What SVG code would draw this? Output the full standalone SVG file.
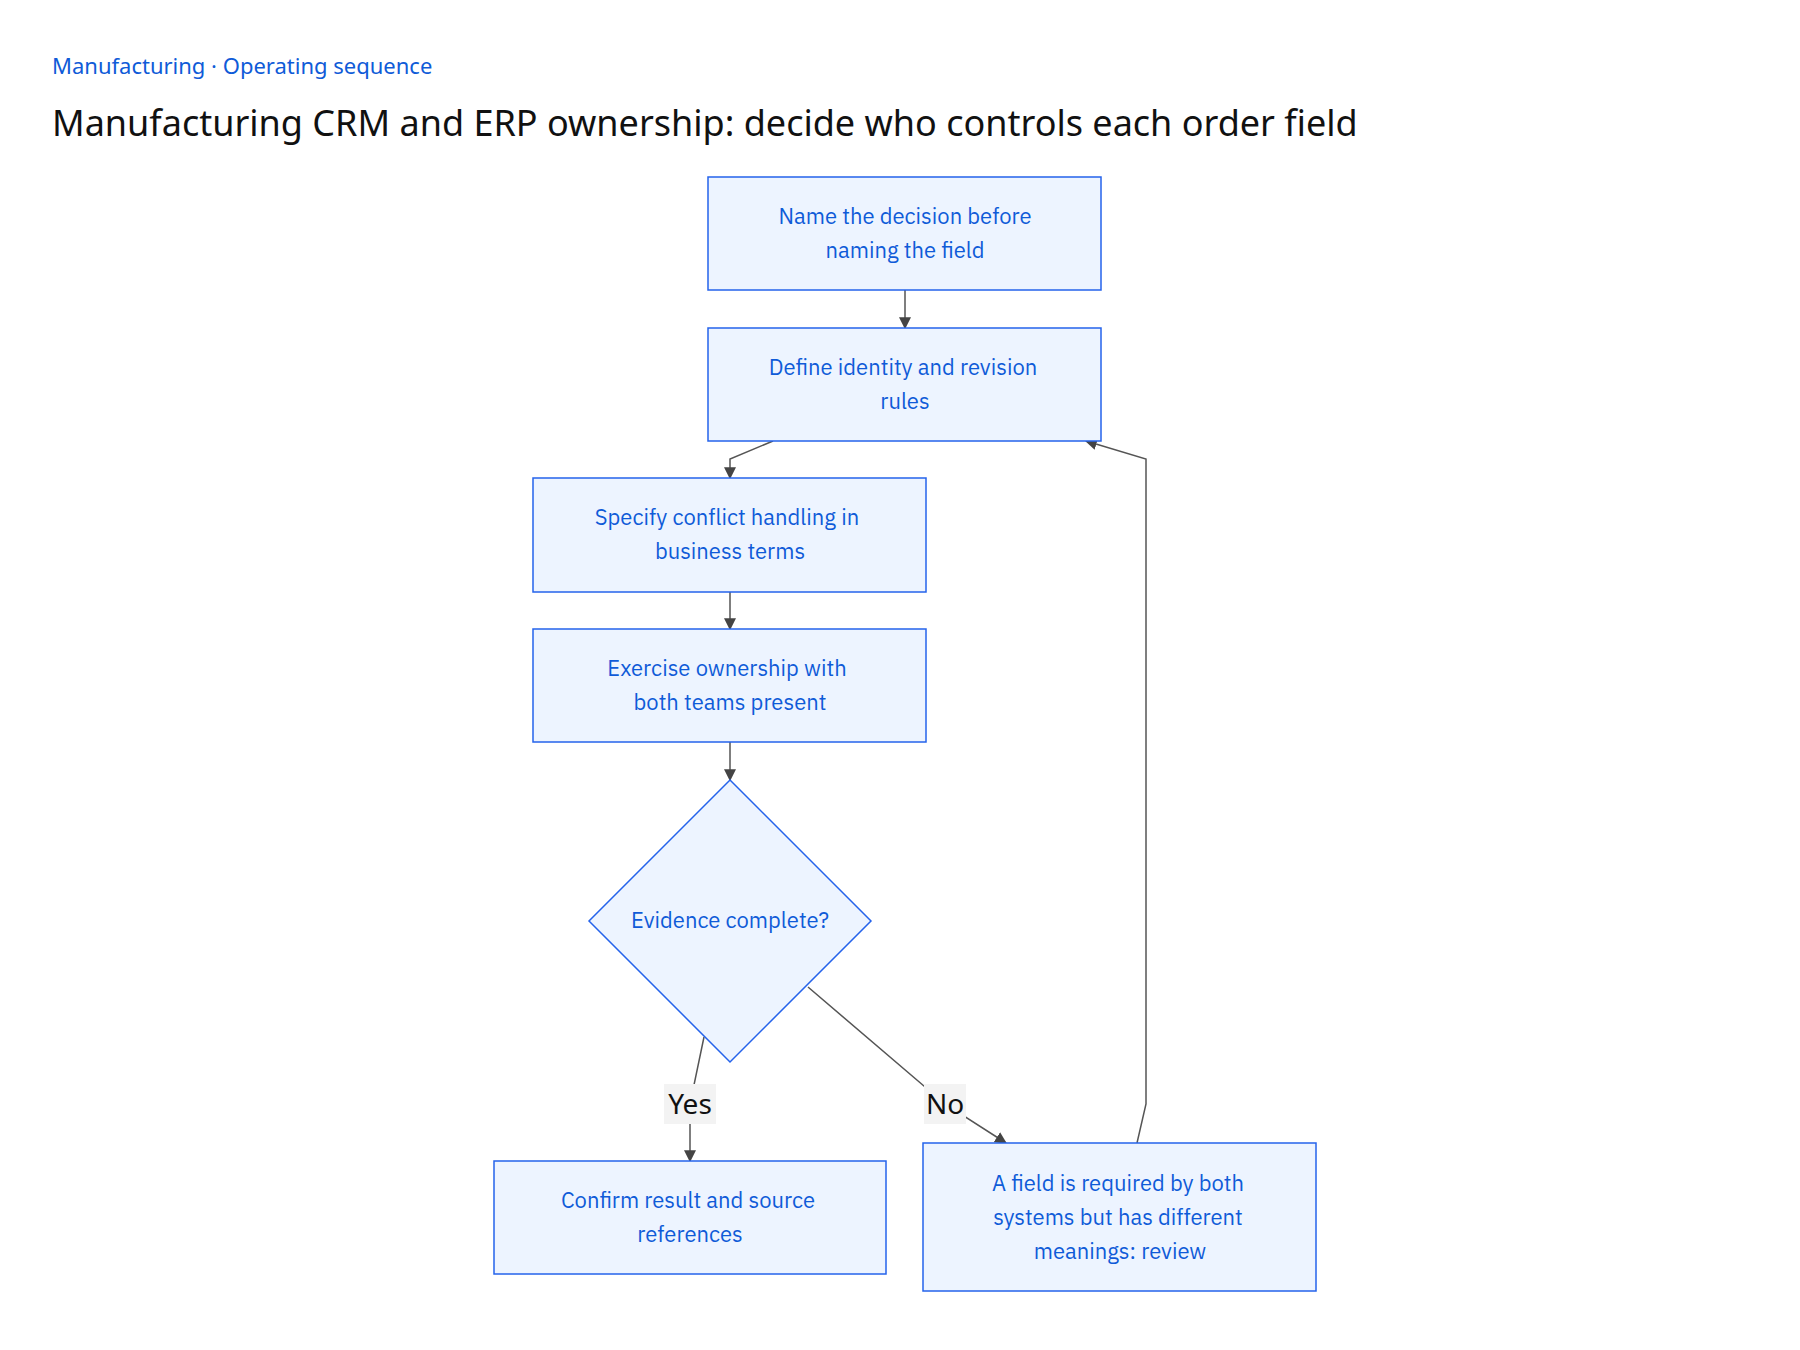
<svg xmlns="http://www.w3.org/2000/svg" width="1800" height="1350" viewBox="0 0 1800 1350">
<style>
.n{fill:#edf4ff;stroke:#2563eb;stroke-width:1.5}
.t{font-family:"IBM Plex Sans","Noto Sans","Liberation Sans",sans-serif;font-size:22px;fill:#0f5bd8;text-anchor:middle}
.c{fill:none;stroke:#555;stroke-width:1.5;marker-end:url(#a)}
.l{font-family:"Noto Sans","Liberation Sans",sans-serif;font-size:28px;fill:#111;text-anchor:middle}
</style>
<defs><marker id="a" viewBox="0 0 10 10" refX="9" refY="5" markerWidth="8" markerHeight="8" orient="auto-start-reverse"><path d="M0,0L10,5L0,10z" fill="#444"/></marker></defs>
<rect width="1800" height="1350" fill="#fff"/>
<text x="52" y="74" style="font-family:'Noto Sans','Liberation Sans',sans-serif;font-size:22px;fill:#0f5bd8">Manufacturing · Operating sequence</text>
<text x="52" y="136" style="font-family:'Noto Sans','Liberation Sans',sans-serif;font-size:36px;fill:#111">Manufacturing CRM and ERP ownership: decide who controls each order field</text>
<g id="connectors">
<path class="c" d="M905,290V328"/>
<path class="c" d="M773,441L730,459V478"/>
<path class="c" d="M730,592V629"/>
<path class="c" d="M730,742V780"/>
<path class="c" d="M704,1037L690,1104V1161"/>
<path class="c" d="M808,987L945,1104L1006,1143"/>
<path class="c" d="M1137,1143L1146,1104V459L1086,441"/>
<rect x="664" y="1084" width="52" height="40" fill="#f3f3f3"/>
<text class="l" x="690" y="1114">Yes</text>
<rect x="924" y="1084" width="42" height="40" fill="#f3f3f3"/>
<text class="l" x="945" y="1114">No</text>
</g>
<g id="n1"><rect class="n" x="708" y="177" width="393" height="113"/><text class="t" x="905" y="224">Name the decision before</text><text class="t" x="905" y="258">naming the field</text></g>
<g id="n2"><rect class="n" x="708" y="328" width="393" height="113"/><text class="t" x="903" y="375">Define identity and revision</text><text class="t" x="905" y="409">rules</text></g>
<g id="n3"><rect class="n" x="533" y="478" width="393" height="114"/><text class="t" x="727" y="525">Specify conflict handling in</text><text class="t" x="730" y="559">business terms</text></g>
<g id="n4"><rect class="n" x="533" y="629" width="393" height="113"/><text class="t" x="727" y="676">Exercise ownership with</text><text class="t" x="730" y="710">both teams present</text></g>
<g id="d"><path class="n" d="M730,780L871,921L730,1062L589,921Z"/><text class="t" x="730" y="928">Evidence complete?</text></g>
<g id="n5"><rect class="n" x="494" y="1161" width="392" height="113"/><text class="t" x="688" y="1208">Confirm result and source</text><text class="t" x="690" y="1242">references</text></g>
<g id="n6"><rect class="n" x="923" y="1143" width="393" height="148"/><text class="t" x="1118" y="1191">A field is required by both</text><text class="t" x="1118" y="1225">systems but has different</text><text class="t" x="1120" y="1259">meanings: review</text></g>
</svg>
